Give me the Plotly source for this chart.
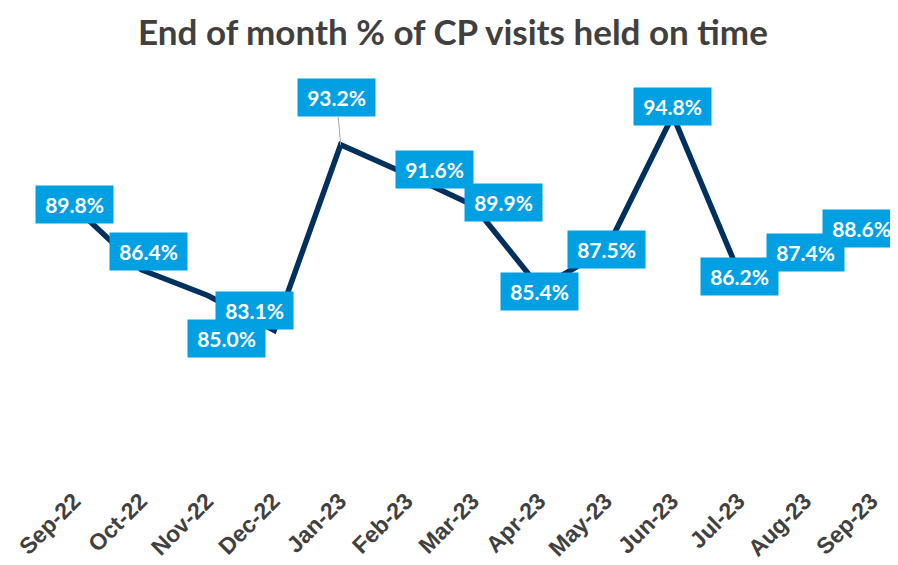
import plotly.graph_objects as go

months = ["Sep-22", "Oct-22", "Nov-22", "Dec-22", "Jan-23", "Feb-23", "Mar-23",
          "Apr-23", "May-23", "Jun-23", "Jul-23", "Aug-23", "Sep-23"]
on_time_pct = [89.8, 86.4, 85.0, 83.1, 93.2, 91.6, 89.9, 85.4, 87.5, 94.8, 86.2, 87.4, 88.6]

# label offsets (pixels) from each point: dx right, dy up
label_dx = [0, 7, 19, -20, -4, 27, 30, 0, 0, 0, 0, 0, -11]
label_dy = [3, 18, -43, 20, 47, 5, 3, -3, 0, 9, -3, -1, 1]

fig = go.Figure()
fig.add_trace(go.Scatter(
    x=months, y=on_time_pct, mode="lines",
    line=dict(color="#00315E", width=5.5),
    hoverinfo="x+y", cliponaxis=False,
))

annotations = []
for m, v, dx, dy in zip(months, on_time_pct, label_dx, label_dy):
    a = dict(
        x=m, y=v, xref="x", yref="y",
        text=f"{v:.1f}%",
        font=dict(family="Lato, Noto Sans, sans-serif", size=21, color="white", weight="bold"),
        bgcolor="#00A0E3", borderpad=5, width=67, height=27,
        align="center", valign="middle",
    )
    if m == "Jan-23":
        a.update(showarrow=True, ax=dx, ay=-dy, arrowhead=0, arrowwidth=1,
                 arrowcolor="#A6A6A6", standoff=0)
    else:
        a.update(showarrow=False, xshift=dx, yshift=dy)
    annotations.append(a)

# page body has an 8px margin, so the figure is sized 8px smaller
fig.update_layout(
    width=890, height=557,
    margin=dict(l=47, r=6, t=67, b=95, autoexpand=False),
    paper_bgcolor="white", plot_bgcolor="white",
    showlegend=False,
    title=dict(text="End of month % of CP visits held on time",
               x=0.5, xref="container", xanchor="center", y=0.955, yanchor="middle",
               font=dict(family="Lato, Noto Sans, sans-serif", size=35, color="#404040", weight="bold")),
    xaxis=dict(type="category", range=[-0.3, 12.3], showgrid=False, zeroline=False,
               showline=False, ticks="", tickangle=-45, automargin=False,
               ticklabelstandoff=12, ticklabelshift=-1,
               tickfont=dict(family="Arial, Liberation Sans, sans-serif", size=23,
                             color="#404040", weight="bold")),
    yaxis=dict(range=[75.5, 97.0], visible=False, showgrid=False, zeroline=False,
               automargin=False),
    annotations=annotations,
)

fig.write_html("out.html")
